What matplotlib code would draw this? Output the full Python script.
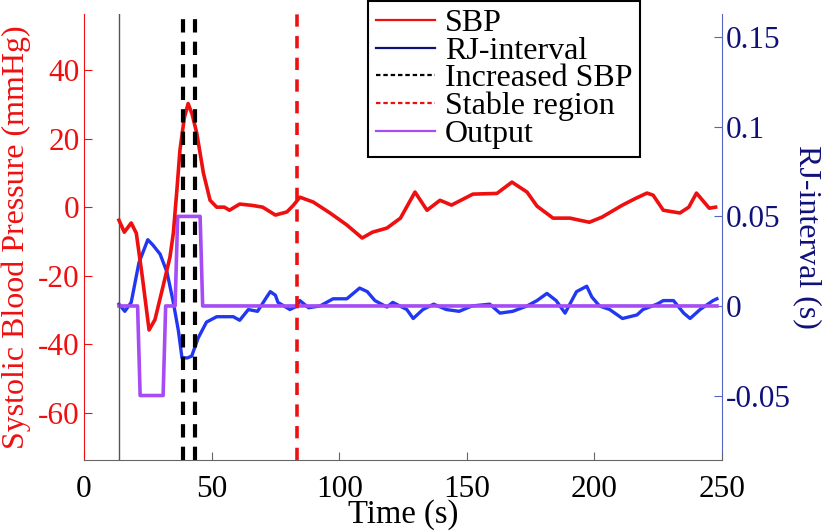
import matplotlib.pyplot as plt
from matplotlib.lines import Line2D

plt.rcParams['font.family'] = ['Liberation Serif', 'DejaVu Serif']

# SBP (mmHg, left axis)
sbp_t = [13.7, 15.8, 18.5, 20.5, 22.8, 25.5, 27.8, 31, 33.7, 35, 36.4, 37.6,
         39.3, 40.8, 42.4, 44.2, 46.8, 49.4, 52, 55, 57, 61, 66, 70, 75, 79.5,
         82, 84.6, 89.8, 96.4, 103, 109, 113, 118.7, 124, 129.7, 134.4, 139.5,
         144, 152.4, 161.8, 167.7, 173.6, 177.5, 183.8, 190.4, 198, 203, 211,
         216, 220.6, 223, 227, 233.5, 237, 240, 245, 247.5]
sbp_v = [-3.8, -7.3, -4.6, -7.6, -20, -35.8, -32.8, -23, -14.5, -7.6, 5, 16.6,
         26, 30.2, 27, 21.5, 9.9, 2, 0, 0, -0.9, 0.9, 0.5, 0, -2.3, -1.4,
         0.5, 2.9, 1.5, -1.7, -5.2, -9.0, -7.3, -6.1, -3.2, 4.4, -0.9, 2,
         0.6, 3.8, 4, 7.3, 4.4, 0.3, -3.2, -3.2, -4.4, -2.9, 0.6,
         2.5, 4.1, 3.5, -0.9, -1.7, 0, 4.1, -0.3, 0]

# RJ-interval (s, right axis)
rj_t = [13.7, 16, 18.5, 21.5, 25, 27, 29.8, 32.5, 35, 37, 38.4, 40.5, 42.2,
        44.7, 48, 52, 58.5, 61, 64.4, 68, 71.6, 73, 75, 76, 80.7, 83.5, 84.6,
        88, 92.5, 97.6, 103, 108, 111, 114, 118.7, 121, 126.5, 129, 132.8,
        137, 142, 147, 152, 159, 163, 168, 173.6, 177.5, 181.4, 185, 188.5,
        193, 197, 199, 202, 206, 211, 216.7, 219, 224.5, 227, 231, 235, 237.5,
        241.4, 246.5, 248]
rj_v = [0.001, -0.003, 0.002, 0.024, 0.037, 0.034, 0.029, 0.019, 0.002, -0.014,
        -0.029, -0.029, -0.028, -0.018, -0.009, -0.006, -0.006, -0.008, -0.002,
        -0.003, 0.005, 0.008, 0.006, 0.002, -0.002, 0, 0.003, -0.001, 0, 0.004,
        0.004, 0.010, 0.008, 0.003, -0.0006, 0.002, -0.002, -0.007, -0.002,
        0.001, -0.002, -0.003, 0, 0.001, -0.004, -0.003, 0, 0.003, 0.007,
        0.003, -0.004, 0.008, 0.011, 0.005, 0, -0.002, -0.007, -0.005, -0.002,
        0.001, 0.003, 0.003, -0.004, -0.007, -0.002, 0.003, 0.004]

# classifier output (right axis units)
out_t = [13.7, 21, 22, 31, 32, 35.7, 36.7, 45.5, 46.5, 248]
out_v = [0, 0, -0.05, -0.05, 0, 0, 0.05, 0.05, 0, 0]

increased_x = [38.8, 43.5]
stable_x = 83.5
start_x = 13.7

red = '#ee1010'
blue = '#2238f0'
navy = '#10107a'
purple = '#a64cf4'

fig = plt.figure(figsize=(8.22, 5.32), dpi=100)
ax = fig.add_axes([84 / 822, 72 / 532, 638 / 822, 446 / 532])
ax2 = ax.twinx()
ax.set_zorder(ax2.get_zorder() + 1)
ax.patch.set_visible(False)

ax2.plot(rj_t, rj_v, color=blue, lw=2.4)
ax2.plot(out_t, out_v, color=purple, lw=2.6)

ax.axvline(start_x, color='#555555', lw=1)
ax.plot(sbp_t, sbp_v, color=red, lw=2.6)
for xv in increased_x:
    ax.axvline(xv, color='black', lw=3, dashes=(3.2, 2.2))
ax.axvline(stable_x, color=red, lw=2.6, dashes=(3.4, 2.6))

ax.set_xlim(0, 250)
ax.set_ylim(-73.7, 56.3)
ax2.set_ylim(-0.086, 0.163)
ax.set_xticks([0, 50, 100, 150, 200, 250])
ax.set_yticks([-60, -40, -20, 0, 20, 40])
ax2.set_yticks([-0.05, 0, 0.05, 0.1, 0.15])
ax2.set_yticklabels(['-0.05', '0', '0.05', '0.1', '0.15'])
ax.set_yticklabels(['-60', '-40', '-20', '0', '20', '40'])

for a in (ax, ax2):
    a.spines['top'].set_visible(False)
ax.spines['right'].set_visible(False)
ax2.spines['left'].set_visible(False)
ax2.spines['bottom'].set_visible(False)
ax.spines['left'].set_color(red)
ax.spines['bottom'].set_color('#666666')
ax2.spines['right'].set_color('#5566c0')

ax.tick_params(axis='x', direction='in', length=6, labelsize=22.5, pad=11,
               colors='#666666', labelcolor='black')
ax.tick_params(axis='y', direction='in', length=6, labelsize=22.5, pad=3,
               colors=red)
ax2.tick_params(axis='y', direction='in', length=6, labelsize=22.5, pad=3,
                colors='#5566c0', labelcolor=navy)

ax.set_xlabel('Time (s)', fontsize=23.5, labelpad=-4)
ax.set_ylabel('Systolic Blood Pressure (mmHg)', fontsize=23, color=red,
              labelpad=5)
ax2.set_ylabel('RJ-interval (s)', fontsize=23, color=navy, rotation=270,
               labelpad=22)

handles = [
    Line2D([], [], color=red, lw=1.6),
    Line2D([], [], color=navy, lw=1.6),
    Line2D([], [], color='black', lw=1.6, dashes=(2, 1.3)),
    Line2D([], [], color=red, lw=1.6, dashes=(2, 1.3)),
    Line2D([], [], color=purple, lw=1.6),
]
labels = ['SBP', 'RJ-interval', 'Increased SBP', 'Stable region', 'Output']
leg = ax.legend(handles, labels, loc='upper left', bbox_to_anchor=(0.445, 1.03),
                borderaxespad=0, fontsize=23, fancybox=False, framealpha=1,
                edgecolor='black', handlelength=1.85, handletextpad=0.3,
                labelspacing=-0.05, borderpad=0.25)
leg.get_frame().set_linewidth(1.5)

fig.savefig('out.png', dpi=100)
